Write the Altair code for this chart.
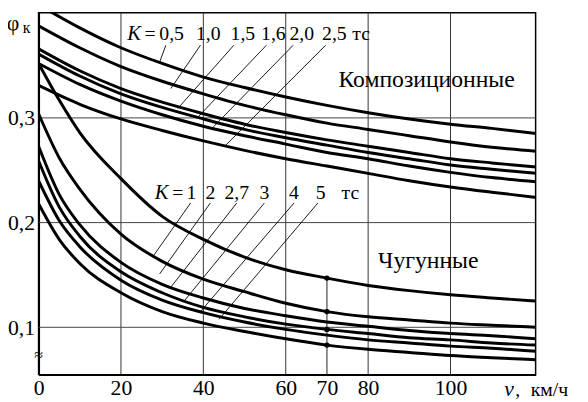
import altair as alt
import pandas as pd

FONT = "Liberation Serif"

# ---- data ----
x_comp = [0, 10, 20, 30, 40, 50, 60, 70, 80, 90, 100, 110, 121]
comp_labels = ["0,5", "1,0", "1,5", "1,6", "2,0", "2,5"]
comp_05 = [0.408, 0.386, 0.367, 0.352, 0.339, 0.329, 0.320, 0.312, 0.305, 0.299, 0.294, 0.290, 0.285]
comp_10 = [0.388, 0.367, 0.349, 0.335, 0.323, 0.312, 0.303, 0.295, 0.289, 0.283, 0.277, 0.272, 0.268]
comp_15 = [0.366, 0.345, 0.328, 0.315, 0.304, 0.294, 0.286, 0.279, 0.273, 0.267, 0.261, 0.257, 0.253]
comp_16 = [0.361, 0.340, 0.323, 0.310, 0.299, 0.289, 0.281, 0.274, 0.267, 0.261, 0.255, 0.251, 0.247]
comp_20 = [0.352, 0.332, 0.316, 0.303, 0.292, 0.283, 0.275, 0.267, 0.261, 0.254, 0.248, 0.243, 0.239]
comp_25 = [0.331, 0.313, 0.299, 0.288, 0.278, 0.269, 0.261, 0.254, 0.247, 0.240, 0.234, 0.229, 0.224]

x_cast = [0, 5, 10, 20, 30, 40, 50, 60, 70, 80, 90, 100, 110, 121]
cast_labels = ["1", "2", "2,7", "3", "4", "5"]
cast_1 = [0.352, 0.317, 0.286, 0.242, 0.206, 0.184, 0.167, 0.155, 0.147, 0.140, 0.135, 0.131, 0.128, 0.125]
cast_2 = [0.304, 0.262, 0.232, 0.189, 0.163, 0.146, 0.134, 0.123, 0.115, 0.110, 0.107, 0.104, 0.102, 0.100]
cast_27 = [0.273, 0.227, 0.198, 0.162, 0.141, 0.128, 0.118, 0.111, 0.105, 0.101, 0.097, 0.094, 0.092, 0.089]
cast_3 = [0.259, 0.215, 0.187, 0.153, 0.133, 0.119, 0.110, 0.103, 0.098, 0.094, 0.090, 0.088, 0.085, 0.083]
cast_4 = [0.240, 0.202, 0.177, 0.145, 0.126, 0.114, 0.105, 0.098, 0.0925, 0.088, 0.085, 0.082, 0.080, 0.077]
cast_5 = [0.218, 0.184, 0.161, 0.133, 0.115, 0.104, 0.096, 0.089, 0.083, 0.079, 0.076, 0.073, 0.071, 0.069]

dot_x = [70, 70, 70, 70]
dot_y = [0.147, 0.115, 0.098, 0.083]

x_ticks = [0, 20, 40, 60, 70, 80, 100]
y_ticks = [0.1, 0.2, 0.3]
grid_x = [20, 40, 60, 80, 100]
grid_y = [0.1, 0.2, 0.3]
X_DOMAIN = [0, 120.66]
Y_DOMAIN = [0.0548, 0.4005]

# leader lines (label -> curve)
comp_lead_x = [30.9, 39.3, 47.4, 55.3, 61.8, 69.7]
comp_lead_y = [0.3694] * 6
comp_lead_x2 = [29.4, 32.1, 33.8, 38.5, 42.1, 45.2]
comp_lead_y2 = [0.3534, 0.328, 0.309, 0.300, 0.290, 0.273]

cast_lead_x = [36.9, 41.7, 48.1, 54.8, 62.0, 67.8]
cast_lead_y = [0.2187] * 6
cast_lead_x2 = [27.8, 29.4, 31.8, 35.4, 39.3, 43.8]
cast_lead_y2 = [0.1678, 0.151, 0.1368, 0.1254, 0.115, 0.1076]

# annotation texts
comp_text = ["=", "0,5", "1,0", "1,5", "1,6", "2,0", "2,5", "тс"]
comp_text_x = [27.05, 32.3, 41.2, 49.6, 57.0, 63.9, 71.8, 78.3]
comp_text_y = 0.3798
cast_text = ["=", "1", "2", "2,7", "3", "4", "5", "тс"]
cast_text_x = [33.8, 37.1, 41.7, 48.1, 54.8, 62.0, 68.5, 75.7]
cast_text_y = 0.2281
k_x = [23.2, 29.9]
k_y = [comp_text_y, cast_text_y]

group_text = ["Композиционные", "Чугунные"]
group_x = [94.2, 94.6]
group_y = [0.3365, 0.1631]

# ---- build tables ----
rows = []
for name, ys_ in zip(comp_labels, [comp_05, comp_10, comp_15, comp_16, comp_20, comp_25]):
    for xv, yv in zip(x_comp, ys_):
        rows.append({"x": xv, "y": yv, "s": "c" + name})
for name, ys_ in zip(cast_labels, [cast_1, cast_2, cast_27, cast_3, cast_4, cast_5]):
    for xv, yv in zip(x_cast, ys_):
        rows.append({"x": xv, "y": yv, "s": "k" + name})
curves_df = pd.DataFrame(rows)

xs = alt.Scale(domain=X_DOMAIN, nice=False, zero=False)
ys = alt.Scale(domain=Y_DOMAIN, nice=False, zero=False)

x_axis = alt.Axis(values=x_ticks, ticks=False, grid=False, domainColor="black", domainWidth=2,
                  labelPadding=3, labelFlush=False, format="d", title=None,
                  labelFont=FONT, labelFontSize=22, labelColor="black", labelOverlap=False)
y_axis = alt.Axis(values=y_ticks, ticks=False, grid=False, domainColor="black", domainWidth=2,
                  labelPadding=4, labelExpr="replace(format(datum.value, '.1f'), '.', ',')", title=None,
                  labelFont=FONT, labelFontSize=22, labelColor="black", labelOverlap=False)


def X(field="x"):
    return alt.X(f"{field}:Q", scale=xs, axis=x_axis)


def Y(field="y"):
    return alt.Y(f"{field}:Q", scale=ys, axis=y_axis)


grid_v = alt.Chart(pd.DataFrame({"x": grid_x})).mark_rule(color="#333", strokeWidth=1).encode(x=X())
grid_h = alt.Chart(pd.DataFrame({"y": grid_y})).mark_rule(color="#444", strokeWidth=1).encode(y=Y())
rule70 = alt.Chart(pd.DataFrame({"x": [70], "y": [Y_DOMAIN[0]], "y2": [dot_y[0]]})).mark_rule(
    color="#444", strokeWidth=1.2).encode(x=X(), y=Y(), y2="y2:Q")

curves = alt.Chart(curves_df).mark_line(interpolate="monotone", clip=True, color="black",
                                        strokeWidth=3).encode(x=X(), y=Y(), detail="s:N")

dots = alt.Chart(pd.DataFrame({"x": dot_x, "y": dot_y})).mark_circle(color="black", size=30, opacity=1).encode(
    x=X(), y=Y())

lead_df = pd.DataFrame({
    "x": comp_lead_x + cast_lead_x,
    "y": comp_lead_y + cast_lead_y,
    "x2": comp_lead_x2 + cast_lead_x2,
    "y2": comp_lead_y2 + cast_lead_y2,
})
leaders = alt.Chart(lead_df).mark_rule(color="black", strokeWidth=0.9).encode(
    x=X(), y=Y(), x2="x2:Q", y2="y2:Q")

ann_df = pd.DataFrame({
    "x": comp_text_x + cast_text_x,
    "y": [comp_text_y] * len(comp_text) + [cast_text_y] * len(cast_text),
    "t": comp_text + cast_text,
})
ann = alt.Chart(ann_df).mark_text(font=FONT, fontSize=20, color="black", align="center",
                                  baseline="middle").encode(x=X(), y=Y(), text="t:N")
kk = alt.Chart(pd.DataFrame({"x": k_x, "y": k_y, "t": ["K", "K"]})).mark_text(
    font=FONT, fontSize=21, fontStyle="italic", color="black", align="center", baseline="middle").encode(
    x=X(), y=Y(), text="t:N")

groups = alt.Chart(pd.DataFrame({"x": group_x, "y": group_y, "t": group_text})).mark_text(
    font=FONT, fontSize=24, color="black", align="center", baseline="middle").encode(
    x=X(), y=Y(), text="t:N")

# axis-area texts: phi_k, break mark, v km/h
phi = alt.Chart(pd.DataFrame({"x": [-6.2], "y": [0.391], "t": ["φ"]})).mark_text(
    font=FONT, fontSize=22, color="black", align="center", baseline="middle").encode(x=X(), y=Y(), text="t:N")
phik = alt.Chart(pd.DataFrame({"x": [-2.9], "y": [0.386], "t": ["к"]})).mark_text(
    font=FONT, fontSize=16, color="black", align="center", baseline="middle").encode(x=X(), y=Y(), text="t:N")
brk = alt.Chart(pd.DataFrame({"x": [0], "y": [0.0733], "t": ["≈"]})).mark_text(
    font=FONT, fontSize=16, color="black", align="center", baseline="middle").encode(x=X(), y=Y(), text="t:N")
xt_x = [114.2, 116.3, 124.0]
xt_t = ["v", ",", "км/ч"]
v_it = alt.Chart(pd.DataFrame({"x": xt_x[:1], "y": [0.0405], "t": xt_t[:1]})).mark_text(
    font=FONT, fontSize=22, fontStyle="italic", color="black", align="center", baseline="middle").encode(
    x=X(), y=Y(), text="t:N")
v_rest = alt.Chart(pd.DataFrame({"x": xt_x[1:], "y": [0.0405, 0.0405], "t": xt_t[1:]})).mark_text(
    font=FONT, fontSize=20, color="black", align="center", baseline="middle").encode(
    x=X(), y=Y(), text="t:N")

chart = alt.layer(grid_v, grid_h, rule70, curves, dots, leaders, ann, kk, groups, phi, phik, brk, v_it, v_rest
                  ).properties(
    width=504, height=367,
    background="white",
    autosize=alt.AutoSizeParams(type="none"),
    padding={"left": 31, "top": 2, "right": 45, "bottom": 24},
).configure_view(stroke="black", strokeWidth=1.5)

chart.save("out.html", embed_options={"renderer": "svg", "actions": False})
